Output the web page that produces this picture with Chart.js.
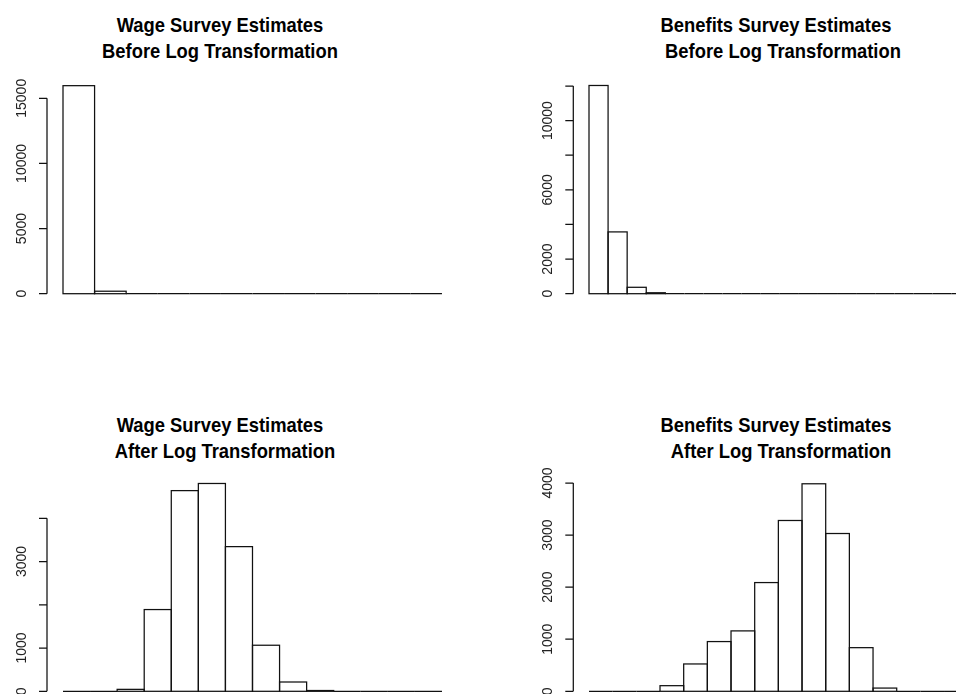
<!DOCTYPE html>
<html>
<head>
<meta charset="utf-8">
<script src="https://cdn.jsdelivr.net/npm/chart.js@4/dist/chart.umd.min.js"></script>
<style>
  html, body { margin: 0; padding: 0; background: #fff; overflow: hidden; width: 956px; height: 694px; }
  .panel { position: absolute; }
  .title {
    position: absolute;
    font: bold 21px "Liberation Sans", Arial, sans-serif;
    line-height: 21px;
    white-space: pre;
    color: #000;
  }
</style>
</head>
<body>

<script>
// Histogram counts per bin
const wageBeforeCounts    = [15970, 190, 0, 0, 0, 0, 0, 0, 0, 0, 0, 0];
const benefitsBeforeCounts = [12030, 3570, 370, 55, 0, 0, 0, 0, 0, 0, 0, 0, 0, 0, 0, 0, 0, 0, 0, 0];
const wageAfterCounts     = [0, 0, 45, 1890, 4640, 4805, 3345, 1065, 215, 18, 0, 0, 0, 0];
const benefitsAfterCounts = [0, 0, 0, 108, 525, 955, 1160, 2088, 3280, 3985, 3030, 838, 62, 0, 0, 0];

// Y-axis tick values and the labels printed beside them ('' = tick mark only)
const wageBeforeTicks       = [0, 5000, 10000, 15000];
const wageBeforeTickLabels  = ['0', '5000', '10000', '15000'];
const benefitsBeforeTicks      = [0, 2000, 4000, 6000, 8000, 10000, 12000];
const benefitsBeforeTickLabels = ['0', '2000', '', '6000', '', '10000', ''];
const wageAfterTicks       = [0, 1000, 2000, 3000, 4000];
const wageAfterTickLabels  = ['0', '1000', '', '3000', ''];
const benefitsAfterTicks      = [0, 1000, 2000, 3000, 4000];
const benefitsAfterTickLabels = ['0', '1000', '2000', '3000', '4000'];

// Panel titles (two lines each)
const titles = [
  { lines: ['Wage Survey Estimates', 'Before Log Transformation'], centers: [219.5, 219.5], top: 14 },
  { lines: ['Benefits Survey Estimates', 'Before Log Transformation'], centers: [775.5, 782.5], top: 14 },
  { lines: ['Wage Survey Estimates', 'After Log Transformation'], centers: [219.5, 224.5], top: 414 },
  { lines: ['Benefits Survey Estimates', 'After Log Transformation'], centers: [775.5, 780.5], top: 414 }
];

titles.forEach(t => {
  t.lines.forEach((line, i) => {
    const d = document.createElement('div');
    d.className = 'title';
    d.textContent = line;
    d.style.left = t.centers[i] + 'px';
    d.style.top = (t.top + i * 26) + 'px';
    d.style.transform = 'translateX(-50%) scaleX(0.875)';
    document.body.appendChild(d);
  });
});

// Outline every bin as a rectangle (zero bins become a flat line on the base)
const histOutline = {
  id: 'histOutline',
  afterDatasetsDraw(chart) {
    const ctx = chart.ctx;
    const meta = chart.getDatasetMeta(0);
    ctx.save();
    ctx.strokeStyle = '#111';
    ctx.lineWidth = 1.25;
    meta.data.forEach(bar => {
      const p = bar.getProps(['x', 'y', 'base', 'width'], true);
      ctx.strokeRect(p.x - p.width / 2, p.y, p.width, p.base - p.y);
    });
    ctx.restore();
  }
};

// Base-graphics style y axis: line from first to last tick, outward ticks, rotated labels
const baseAxis = {
  id: 'baseAxis',
  afterDraw(chart, args, opts) {
    const ctx = chart.ctx;
    const ys = chart.scales.y;
    const x = opts.x;
    const first = ys.getPixelForValue(opts.ticks[0]);
    const last = ys.getPixelForValue(opts.ticks[opts.ticks.length - 1]);
    ctx.save();
    ctx.strokeStyle = '#111';
    ctx.lineWidth = 1.25;
    ctx.beginPath();
    ctx.moveTo(x, first);
    ctx.lineTo(x, last);
    opts.ticks.forEach(v => {
      const py = ys.getPixelForValue(v);
      ctx.moveTo(x, py);
      ctx.lineTo(x - 8, py);
    });
    ctx.stroke();
    ctx.fillStyle = '#222';
    ctx.font = '14px "Liberation Sans", Arial, sans-serif';
    ctx.textAlign = 'center';
    ctx.textBaseline = 'alphabetic';
    opts.ticks.forEach((v, i) => {
      const label = opts.labels[i];
      if (!label) return;
      const py = ys.getPixelForValue(v);
      ctx.save();
      ctx.translate(x - 21, py);
      ctx.rotate(-Math.PI / 2);
      ctx.fillText(label, 0, 0);
      ctx.restore();
    });
    ctx.restore();
  }
};

// box: canvas rect; plotLeft/binW: first bin edge and bin width;
// y0: pixel of zero count; pxPerUnit: pixels per count; axisX: y-axis position (all page coords)
function makePanel(counts, ticks, labels, box, plotLeft, binW, y0, pxPerUnit, yMax, axisX) {
  const wrap = document.createElement('div');
  wrap.className = 'panel';
  wrap.style.left = box.x + 'px';
  wrap.style.top = box.y + 'px';
  const cv = document.createElement('canvas');
  cv.width = box.w;
  cv.height = box.h;
  cv.style.width = box.w + 'px';
  cv.style.height = box.h + 'px';
  wrap.appendChild(cv);
  document.body.appendChild(wrap);

  const left = plotLeft - box.x;
  const right = box.w - (left + binW * counts.length);
  const bottom = box.h - (y0 - box.y);
  const top = (y0 - box.y) - yMax * pxPerUnit;

  new Chart(cv, {
    type: 'bar',
    data: {
      labels: counts.map((_, i) => String(i + 1)),
      datasets: [{
        data: counts,
        backgroundColor: '#fff',
        borderWidth: 0,
        barPercentage: 1,
        categoryPercentage: 1
      }]
    },
    options: {
      responsive: false,
      animation: false,
      events: [],
      devicePixelRatio: 1,
      layout: { padding: { left, right, top, bottom } },
      plugins: {
        legend: { display: false },
        title: { display: false },
        tooltip: { enabled: false },
        baseAxis: { x: axisX - box.x, ticks, labels }
      },
      scales: {
        x: { type: 'category', display: false, offset: true },
        y: { display: false, min: 0, max: yMax }
      }
    },
    plugins: [histOutline, baseAxis]
  });
}

makePanel(wageBeforeCounts, wageBeforeTicks, wageBeforeTickLabels,
  { x: 0, y: 0, w: 478, h: 340 }, 63, 31.58, 293.7, 195.4 / 15000, 18000, 47);
makePanel(benefitsBeforeCounts, benefitsBeforeTicks, benefitsBeforeTickLabels,
  { x: 478, y: 0, w: 520, h: 340 }, 589, 19.08, 293.7, 207.7 / 12000, 13000, 573.3);
makePanel(wageAfterCounts, wageAfterTicks, wageAfterTickLabels,
  { x: 0, y: 340, w: 478, h: 354 }, 63, 27.07, 691.3, 173 / 4000, 5000, 47);
makePanel(benefitsAfterCounts, benefitsAfterTicks, benefitsAfterTickLabels,
  { x: 478, y: 340, w: 520, h: 354 }, 589, 23.67, 691.3, 208.3 / 4000, 4300, 573.3);
</script>
</body>
</html>
